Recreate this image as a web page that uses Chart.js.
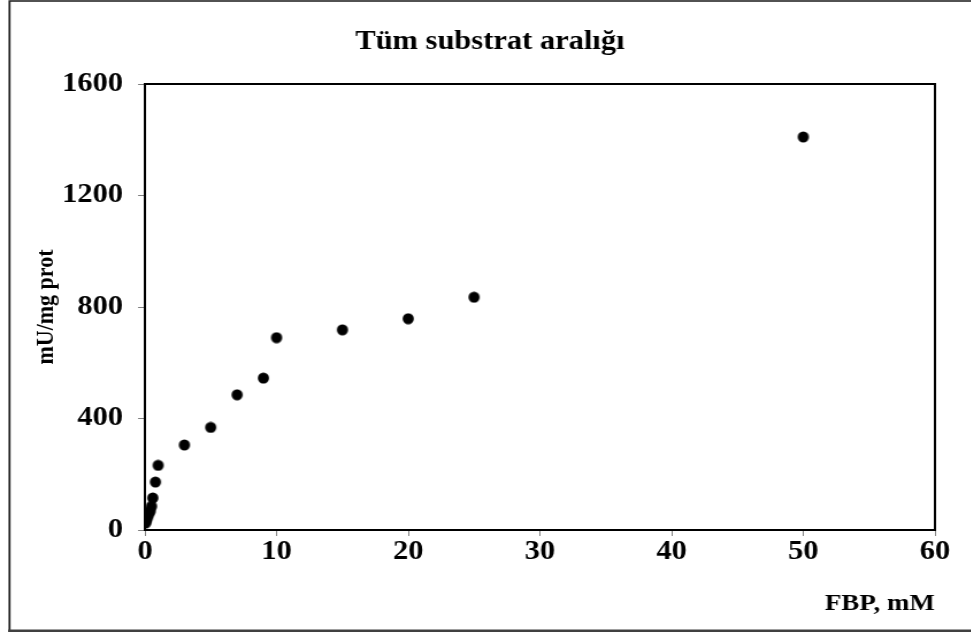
<!DOCTYPE html>
<html>
<head>
<meta charset="utf-8">
<script src="https://cdn.jsdelivr.net/npm/chart.js@4.4.1/dist/chart.umd.min.js"></script>
<style>
  html, body { margin: 0; padding: 0; background: #fff; overflow: hidden; }
  /* chart is laid out narrow and widened, like the wide serif lettering */
  #wrap { width: 844px; height: 632px; transform: scaleX(1.15); transform-origin: 0 0; }
</style>
</head>
<body>
<div id="wrap"><canvas id="fbp" width="844" height="632"></canvas></div>
<script>
// FBP concentration (mM) and specific activity (mU/mg prot)
var fbpConc  = [0.05, 0.1, 0.2, 0.3, 0.4, 0.5, 0.6, 0.8, 1, 3, 5, 7, 9, 10, 15, 20, 25, 50];
var activity = [25, 33, 45, 58, 68, 85, 115, 172, 232, 305, 368, 485, 545, 690, 718, 758, 835, 1410];
var xTicks = [0, 10, 20, 30, 40, 50, 60];
var yTicks = [0, 400, 800, 1200, 1600];

var serif = 'Liberation Serif, Times New Roman, serif';
var SX = 1.15;

// marker: narrowed ellipse so it comes out round after the widening
var dot = document.createElement('canvas');
dot.width = 12; dot.height = 12;
var dc = dot.getContext('2d');
dc.fillStyle = '#000';
dc.beginPath();
dc.ellipse(6, 6, 5.6 / SX, 5.6, 0, 0, Math.PI * 2);
dc.fill();

var points = fbpConc.map(function (x, i) { return { x: x, y: activity[i] }; });

var framePlugin = {
  id: 'frame',
  beforeDatasetsDraw: function (chart) {
    var ctx = chart.ctx, a = chart.chartArea;
    ctx.save();
    ctx.strokeStyle = '#000';
    ctx.lineWidth = 2;
    ctx.strokeRect(a.left, a.top, a.right - a.left, a.bottom - a.top);
    // outer frame
    ctx.strokeStyle = '#1a1a1a';
    ctx.lineWidth = 2 / SX;
    ctx.beginPath();
    ctx.moveTo(8.3, 632);
    ctx.lineTo(8.3, 1);
    ctx.lineTo(chart.width, 1);
    ctx.stroke();
    ctx.fillStyle = '#404040';
    ctx.fillRect(7, 629.5, chart.width, 2.5);
    ctx.restore();
  }
};

var tickFont = { family: serif, size: 26.5, weight: 'bold' };

var config = {
  type: 'scatter',
  data: {
    datasets: [{
      data: points,
      pointStyle: dot,
      pointRadius: 6,
      pointHoverRadius: 6,
      backgroundColor: '#000',
      borderColor: '#000'
    }]
  },
  options: {
    responsive: false,
    animation: false,
    devicePixelRatio: 1,
    events: [],
    layout: { padding: { left: 8, right: 0, top: 0, bottom: 0 } },
    plugins: {
      legend: { display: false },
      tooltip: { enabled: false },
      title: {
        display: true,
        text: 'Tüm substrat aralığı',
        color: '#000',
        font: { family: serif, size: 26.5, weight: 'bold' },
        padding: { top: 26, bottom: 26.2 }
      }
    },
    scales: {
      x: {
        type: 'linear',
        min: 0,
        max: 60,
        afterFit: function (s) { s.height = 102; },
        afterBuildTicks: function (s) { s.ticks = xTicks.map(function (v) { return { value: v }; }); },
        grid: { drawOnChartArea: false, tickLength: 6, color: '#808080' },
        border: { display: true, color: '#000', width: 2 },
        ticks: { color: '#000', padding: 0, maxRotation: 0, font: tickFont,
                 callback: function (v) { return String(v); } },
        title: {
          display: true,
          text: 'FBP, mM',
          align: 'end',
          color: '#000',
          font: { family: serif, size: 23.5, weight: 'bold' },
          padding: { top: 14, bottom: 14 }
        }
      },
      y: {
        type: 'linear',
        min: 0,
        max: 1600,
        afterFit: function (s) { s.width = 118; },
        afterBuildTicks: function (s) { s.ticks = yTicks.map(function (v) { return { value: v }; }); },
        grid: { drawOnChartArea: false, tickLength: 6, color: '#808080' },
        border: { display: true, color: '#000', width: 2 },
        ticks: { color: '#000', padding: 13, font: tickFont,
                 callback: function (v) { return String(v); } },
        title: {
          display: true,
          text: 'mU/mg prot',
          color: '#000',
          font: { family: serif, size: 22, weight: 'bold' },
          padding: { top: 18.8, bottom: 18.8 }
        }
      },
      // empty right-hand strip, keeps the plot clear of the right edge
      yRight: {
        type: 'linear',
        position: 'right',
        afterFit: function (s) { s.width = 31; },
        grid: { display: false },
        border: { display: false },
        ticks: { display: false }
      }
    }
  },
  plugins: [framePlugin]
};

window.onload = function () {
  var ctx = document.getElementById('fbp').getContext('2d');
  window.fbpChart = new Chart(ctx, config);
};
</script>
</body>
</html>
